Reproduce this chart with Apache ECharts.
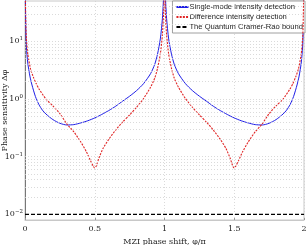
<!DOCTYPE html>
<html>
<head>
<meta charset="utf-8">
<script src="https://cdn.jsdelivr.net/npm/echarts@6/dist/echarts.min.js"></script>
<style>html,body{margin:0;padding:0;background:#fff}#c{width:306px;height:245px}</style>
</head>
<body>
<div id="c"></div>
<script>
// ---- data ----
var xTicks = [0, 0.5, 1, 1.5, 2];
var yTickExponents = [-2, -1, 0, 1];

var bluePhiLeft = [0,0.003,0.006,0.01,0.02,0.035,0.05,0.075,0.1,0.125,0.15,0.2,0.25,0.3,0.35,0.4,0.45,0.5,0.55,0.6,0.65,0.7,0.75,0.8,0.85,0.9,0.93,0.95,0.97,0.985,0.995,1.0];
var blueValLeft = [5000,50,16,8,4.2,2.5,1.75,1.1,0.8,0.64,0.55,0.44,0.38,0.355,0.36,0.385,0.42,0.47,0.54,0.63,0.75,0.92,1.12,1.4,1.85,2.75,4.0,6.0,11,25,80,5000];
var bluePhiRight = [1.005,1.015,1.03,1.05,1.07,1.1,1.15,1.2,1.25,1.3,1.35,1.4,1.45,1.5,1.55,1.6,1.65,1.7,1.75,1.8,1.85,1.875,1.9,1.925,1.95,1.965,1.98,1.99,1.994,1.997,2.0];
var blueValRight = [80,25,11,6.0,4.0,2.75,1.85,1.4,1.12,0.92,0.75,0.63,0.54,0.47,0.42,0.385,0.36,0.355,0.38,0.44,0.55,0.64,0.8,1.1,1.75,2.5,4.2,8,16,50,5000];

var redPhiLeft = [0,0.003,0.006,0.01,0.02,0.04,0.06,0.08,0.1,0.15,0.2,0.25,0.3,0.35,0.4,0.44,0.47,0.49,0.5,0.51,0.53,0.56,0.6,0.65,0.7,0.75,0.8,0.85,0.9,0.93,0.95,0.97,0.985,0.995,1.0];
var redValLeft = [5000,60,20,11,6,3.3,2.4,1.85,1.5,1.0,0.76,0.56,0.37,0.27,0.18,0.122,0.085,0.068,0.064,0.068,0.095,0.14,0.2,0.29,0.4,0.53,0.72,1.02,1.6,2.3,3.4,6,13,40,5000];
var redPhiRight = [1.005,1.015,1.03,1.05,1.07,1.1,1.15,1.2,1.25,1.3,1.35,1.4,1.44,1.47,1.49,1.5,1.51,1.53,1.56,1.6,1.65,1.7,1.75,1.8,1.85,1.9,1.92,1.94,1.96,1.98,1.99,1.994,1.997,2.0];
var redValRight = [40,13,6,3.4,2.3,1.6,1.02,0.72,0.53,0.4,0.29,0.2,0.14,0.095,0.068,0.064,0.068,0.085,0.122,0.18,0.27,0.37,0.56,0.76,1.0,1.5,1.85,2.4,3.3,6,11,20,60,5000];

var boundPhi = [0, 2];
var boundVal = [0.01, 0.01];

var gridMinor = [0.009,0.02,0.03,0.04,0.05,0.06,0.07,0.08,0.09,0.1,0.2,0.3,0.4,0.5,0.6,0.7,0.8,0.9,1,2,3,4,5,6,7,8,9,10,20,30,40];

var seriesNames = ['Single-mode intensity detection','Difference intensity detection','The Quantum Cramer-Rao bound'];

function zip(a, b) { var r = []; for (var i = 0; i < a.length; i++) r.push([a[i], b[i]]); return r; }

var blueData = zip(bluePhiLeft, blueValLeft).concat(zip(bluePhiRight, blueValRight));
var redData = zip(redPhiLeft, redValLeft).concat(zip(redPhiRight, redValRight));
var boundData = zip(boundPhi, boundVal);

var serif = 'DejaVu Serif';
var chart = echarts.init(document.getElementById('c'), null, {renderer: 'canvas'});
chart.setOption({
  animation: false,
  backgroundColor: '#fff',
  grid: {left: 25, right: 2, top: 1, bottom: 25, show: true, borderColor: '#c8c8c8', borderWidth: 1,
         containLabel: false, outerBoundsMode: 'none'},
  legend: {
    data: seriesNames,
    orient: 'vertical', right: 1, top: 1,
    backgroundColor: '#fff', borderColor: '#888', borderWidth: 0.8,
    padding: [2, 2, 2, 3], itemGap: 2, itemWidth: 12, itemHeight: 8,
    itemStyle: {opacity: 0},
    textStyle: {fontFamily: 'Liberation Sans', fontSize: 7.6, color: '#222', padding: [0,0,0,-4]}
  },
  xAxis: {
    type: 'value', min: 0, max: 2, interval: 0.5,
    name: 'MZI phase shift, φ/π', nameLocation: 'middle', nameGap: 17,
    nameTextStyle: {fontFamily: serif, fontSize: 8, color: '#222'},
    axisLine: {show: true, lineStyle: {color: '#c8c8c8', width: 1}},
    axisTick: {show: true, inside: true, length: 2, lineStyle: {color: '#999'}},
    axisLabel: {fontFamily: serif, fontSize: 8, color: '#222', margin: 5,
      formatter: function (v) { return xTicks.indexOf(v) >= 0 ? String(v) : ''; }},
    splitLine: {show: true, lineStyle: {color: '#d0d0d0', type: [1, 2], width: 0.8}}
  },
  yAxis: {
    type: 'log', logBase: 10, min: 0.008, max: 50,
    name: 'Phase sensitivity Δφ', nameLocation: 'middle', nameGap: 16, nameRotate: 90,
    nameMoveOverlap: false,
    nameTextStyle: {fontFamily: serif, fontSize: 8, color: '#222'},
    axisLine: {show: true, lineStyle: {color: '#777', width: 1}},
    axisTick: {show: false},
    splitLine: {show: false},
    axisLabel: {
      margin: 2, showMinLabel: false, showMaxLabel: false,
      formatter: function (v) {
        var e = Math.round(Math.log10(v));
        if (Math.abs(Math.log10(v) - e) > 1e-6 || yTickExponents.indexOf(e) < 0) return '';
        return '{b|10}{s|' + (e < 0 ? '\u2212' + (-e) : e) + '}';
      },
      rich: {
        b: {fontFamily: serif, fontSize: 8, color: '#222'},
        s: {fontFamily: serif, fontSize: 5.5, color: '#222', verticalAlign: 'bottom', padding: [0, 0, 5, 0]}
      }
    }
  },
  series: [
    {
      type: 'line', data: [], silent: true, z: 1,
      markLine: {
        silent: true, symbol: ['none', 'none'], label: {show: false}, animation: false,
        lineStyle: {color: '#d0d0d0', type: [1, 2], width: 0.8},
        data: gridMinor.map(function (v) { return {yAxis: v}; })
      }
    },
    {
      name: seriesNames[0], type: 'line', data: blueData, showSymbol: false, symbol: 'none', z: 3,
      smooth: 0.25, lineStyle: {color: '#1f1fe6', width: 1}, itemStyle: {color: '#1f1fe6'}
    },
    {
      name: seriesNames[1], type: 'line', data: redData, showSymbol: false, symbol: 'none', z: 4,
      smooth: 0.2, lineStyle: {color: '#e02424', width: 1.1, type: [2, 1.2]}, itemStyle: {color: '#e02424'}
    },
    {
      name: seriesNames[2], type: 'line', data: boundData, showSymbol: false, symbol: 'none', z: 5,
      lineStyle: {color: '#000', width: 1.4, type: [4, 2]}, itemStyle: {color: '#000'}
    }
  ]
});
</script>
</body>
</html>
